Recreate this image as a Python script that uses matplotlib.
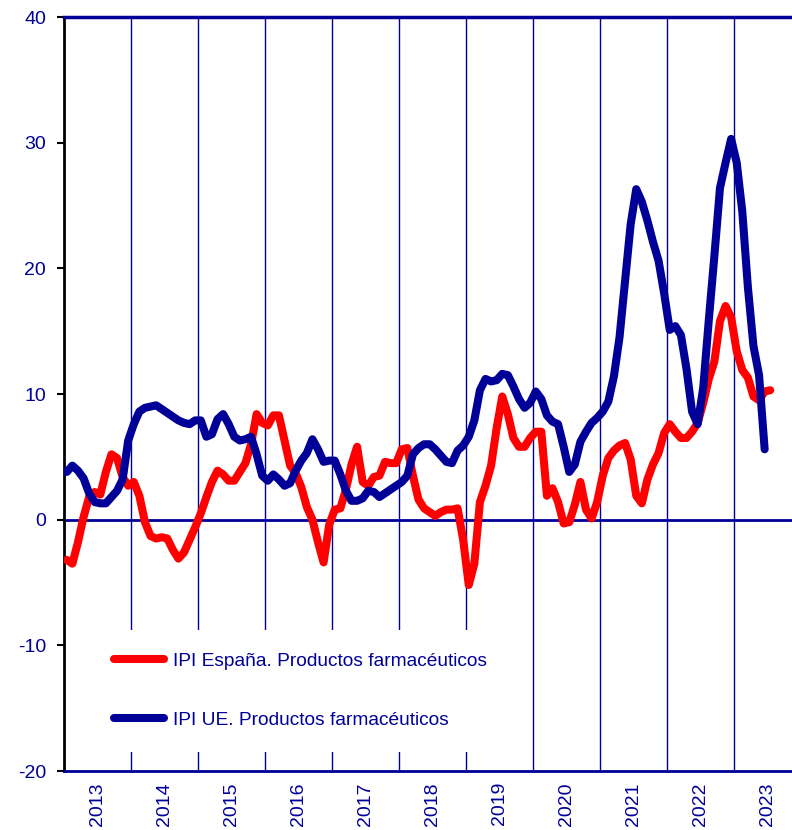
import matplotlib
matplotlib.use("Agg")
import matplotlib.pyplot as plt
import numpy as np

# Tasas de variacion anual (%), datos mensuales desde enero 2013
ipi_espana = [-3.2, -3.5, -1.8, 0.2, 1.8, 2.2, 2.0, 3.8, 5.2, 4.9, 3.4, 2.7,
              3.0, 1.9, -0.2, -1.3, -1.5, -1.4, -1.5, -2.4, -3.1, -2.6, -1.6, -0.6,
              0.5, 1.8, 3.0, 3.9, 3.6, 3.1, 3.1, 3.8, 4.5, 6.0, 8.4, 7.7,
              7.5, 8.3, 8.3, 6.3, 4.3, 3.7, 2.6, 1.0, 0.0, -1.8, -3.4, -0.4,
              0.8, 0.9, 2.4, 4.4, 5.8, 3.0, 2.7, 3.4, 3.5, 4.6, 4.5, 4.5,
              5.6, 5.7, 3.5, 1.6, 0.9, 0.6, 0.3, 0.6, 0.8, 0.8, 0.9, -1.6,
              -5.2, -3.5, 1.4, 2.7, 4.3, 7.3, 9.8, 8.4, 6.5, 5.8, 5.8, 6.5,
              7.0, 7.0, 1.9, 2.5, 1.4, -0.3, -0.2, 1.2, 3.0, 0.8, 0.1, 1.4,
              3.5, 4.9, 5.5, 5.9, 6.1, 4.8, 1.9, 1.3, 3.2, 4.4, 5.3, 6.9,
              7.6, 7.0, 6.5, 6.5, 7.0, 7.7, 9.3, 11.2, 12.6, 15.8, 17.0, 16.1,
              13.4, 11.9, 11.3, 9.8, 9.5, 10.2, 10.3]

ipi_ue = [3.8, 4.3, 3.9, 3.3, 2.1, 1.4, 1.3, 1.3, 1.8, 2.3, 3.2, 6.3,
          7.6, 8.6, 8.9, 9.0, 9.1, 8.8, 8.5, 8.2, 7.9, 7.7, 7.6, 7.9,
          7.9, 6.6, 6.8, 8.0, 8.4, 7.6, 6.6, 6.3, 6.4, 6.6, 5.2, 3.5,
          3.1, 3.6, 3.2, 2.7, 2.9, 3.9, 4.7, 5.3, 6.4, 5.6, 4.6, 4.7,
          4.7, 3.6, 2.3, 1.5, 1.5, 1.7, 2.3, 2.2, 1.8, 2.1, 2.4, 2.7,
          3.0, 3.5, 5.2, 5.7, 6.0, 6.0, 5.6, 5.1, 4.6, 4.5, 5.5, 5.9,
          6.6, 7.9, 10.3, 11.2, 11.0, 11.1, 11.6, 11.5, 10.6, 9.6, 8.9, 9.3,
          10.2, 9.6, 8.3, 7.8, 7.6, 5.8, 3.8, 4.4, 6.2, 7.0, 7.7, 8.1,
          8.6, 9.4, 11.4, 14.5, 19.0, 23.5, 26.3, 25.3, 23.8, 22.1, 20.6, 18.0,
          15.1, 15.4, 14.7, 12.0, 8.6, 7.6, 10.5, 15.9, 21.0, 26.4, 28.4, 30.3,
          28.4, 24.5, 18.5, 13.8, 11.5, 5.6]

anios = list(range(2013, 2024))
nombre_es = "IPI España. Productos farmacéuticos"
nombre_ue = "IPI UE. Productos farmacéuticos"

azul = "#000099"
rojo = "#ff0000"

plt.rcParams['font.family'] = ['Liberation Sans', 'DejaVu Sans']
plt.rcParams['axes.unicode_minus'] = False

fig = plt.figure(figsize=(7.92, 8.30), dpi=100)
ax = fig.add_axes([64 / 792, 1 - 771 / 830, 1 - 64 / 792, (771 - 17) / 830])

x_es = 2013 + (np.arange(len(ipi_espana)) + 0.5) / 12
x_ue = 2013 + (np.arange(len(ipi_ue)) + 0.5) / 12

for a in anios[1:]:
    ax.axvline(a, color=azul, lw=1, zorder=1)
ax.axhline(0, color=azul, lw=2, zorder=2)

ax.plot(x_es, ipi_espana, color=rojo, lw=5.8, solid_capstyle="round",
        solid_joinstyle="round", label=nombre_es, zorder=3)
ax.plot(x_ue, ipi_ue, color=azul, lw=5.8, solid_capstyle="round",
        solid_joinstyle="round", label=nombre_ue, zorder=4)

ax.set_xlim(2013, 2013 + 130.4 / 12)
ax.set_ylim(-20, 40)
ax.set_yticks(range(-20, 41, 10))
ax.tick_params(axis="y", colors="black", labelcolor=azul, labelsize=14,
               length=5, width=1.5, direction="out", pad=8)

ax.set_xticks([a + 0.5 for a in anios])
ax.set_xticklabels([str(a) for a in anios], rotation=90, color=azul, fontsize=14)
ax.tick_params(axis="x", length=0, pad=8)

ax.spines["right"].set_visible(False)
ax.spines["left"].set_color("black")
ax.spines["left"].set_linewidth(2)
ax.spines["top"].set_color(azul)
ax.spines["top"].set_linewidth(2.5)
ax.spines["bottom"].set_color(azul)
ax.spines["bottom"].set_linewidth(2)

leg = ax.legend(loc="upper left", bbox_to_anchor=(0.024, 0.2), frameon=True,
                facecolor="white", edgecolor="none", framealpha=1,
                fontsize=13.8, handlelength=2.6, handletextpad=0.45,
                labelspacing=2.15, borderpad=1.2, fancybox=False)
for t in leg.get_texts():
    t.set_color(azul)
leg.set_zorder(5)

fig.savefig("out.png", dpi=100)
